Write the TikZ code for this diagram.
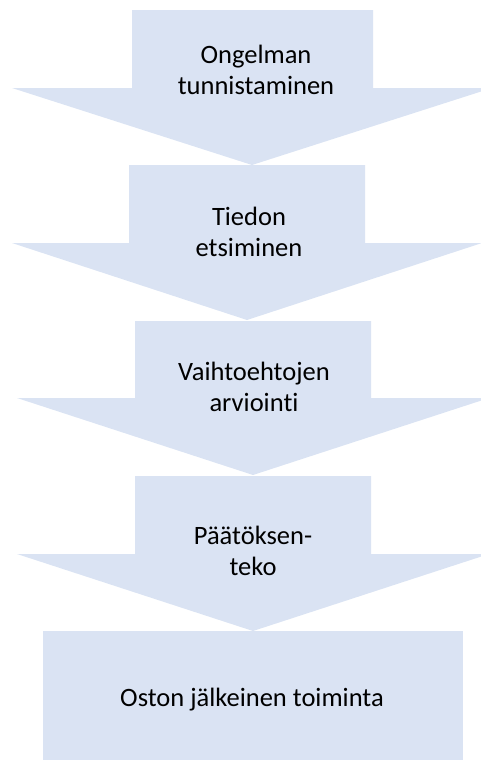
\documentclass[tikz,border=0pt]{standalone}
\usepackage{fontspec}
\setmainfont{Carlito}[Ligatures=NoCommon]
\begin{document}
\begin{tikzpicture}[x=1pt,y=-1pt,
  stage/.style={fill=stagefill,draw=none},
  label/.style={font=\fontsize{26.5}{31}\selectfont,align=center,inner sep=0pt,text=black}]
\definecolor{stagefill}{HTML}{DAE3F3}
\useasboundingbox (0,0) rectangle (481,761);
\begin{scope}
\clip (0,0) rectangle (481,761);
% down arrows, one per stage
\fill[stage] (132,10) -- (373,10) -- (373,88) -- (492,88) -- (252,165) -- (12,88) -- (132,88) -- cycle;
\fill[stage] (129,165) -- (365,165) -- (365,243) -- (482,243) -- (247,320) -- (12,243) -- (129,243) -- cycle;
\fill[stage] (135,321) -- (371,321) -- (371,398) -- (489,398) -- (253,475) -- (17,398) -- (135,398) -- cycle;
\fill[stage] (135,476) -- (371,476) -- (371,554) -- (489,554) -- (253,631) -- (17,554) -- (135,554) -- cycle;
% final stage box
\fill[stage] (43,631) rectangle (463,760);
\end{scope}
% stage labels
\node[label] (s1) at (256,72.6) {\strut Ongelman\\\strut tunnistaminen};
\node[label] (s2) at (249,234.3) {\strut Tiedon\\\strut etsiminen};
\node[label] (s3) at (254,390.1) {\strut Vaihtoehtojen\\\strut arviointi};
\node[label] (s4) at (253,553.8) {\strut Päätöksen-\\\strut teko};
\node[label,anchor=base] (s5) at (252,706.3) {Oston jälkeinen toiminta};
\end{tikzpicture}
\end{document}
